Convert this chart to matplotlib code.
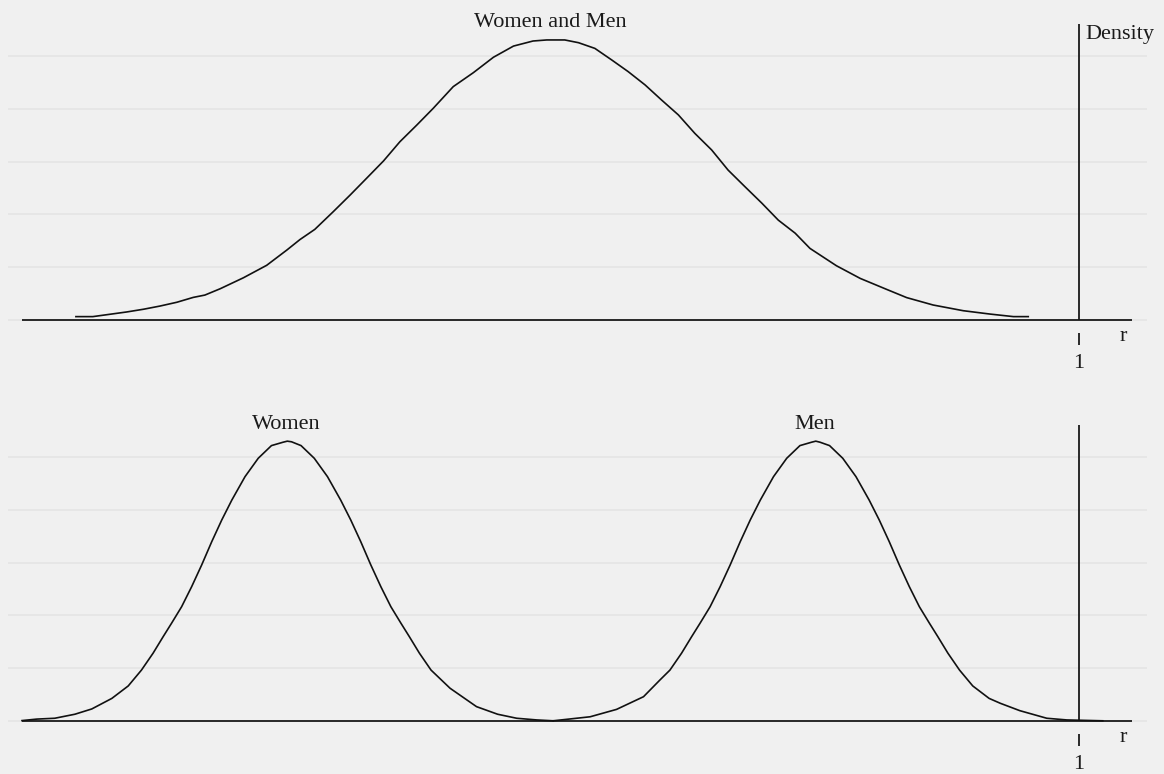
import matplotlib
matplotlib.use("Agg")
import matplotlib.pyplot as plt

plt.rcParams['font.family'] = ['Liberation Serif', 'DejaVu Serif']

# ---------------- data ----------------
both_r = [-0.898, -0.866, -0.834, -0.802, -0.770, -0.739, -0.707, -0.676, -0.654, -0.625,
          -0.581, -0.537, -0.499, -0.474, -0.446, -0.411, -0.379, -0.348, -0.316, -0.285,
          -0.253, -0.222, -0.184, -0.146, -0.108, -0.070, -0.033, -0.007, 0.027, 0.053,
          0.084, 0.116, 0.147, 0.179, 0.210, 0.242, 0.273, 0.305, 0.336, 0.368,
          0.400, 0.431, 0.463, 0.491, 0.541, 0.586, 0.636, 0.674, 0.724, 0.781,
          0.832, 0.876, 0.904]
both_d = [0.016, 0.016, 0.027, 0.038, 0.051, 0.066, 0.084, 0.107, 0.118, 0.148,
          0.200, 0.259, 0.331, 0.381, 0.429, 0.513, 0.592, 0.671, 0.753, 0.844,
          0.923, 1.002, 1.105, 1.171, 1.244, 1.297, 1.321, 1.326, 1.326, 1.313,
          1.286, 1.231, 1.176, 1.113, 1.042, 0.971, 0.884, 0.805, 0.710, 0.631,
          0.553, 0.473, 0.411, 0.339, 0.257, 0.197, 0.145, 0.106, 0.071, 0.044,
          0.028, 0.016, 0.016]

women_r = [-1.000, -0.972, -0.938, -0.900, -0.868, -0.830, -0.799, -0.774, -0.752, -0.733,
           -0.717, -0.698, -0.679, -0.660, -0.641, -0.622, -0.603, -0.578, -0.553, -0.528,
           -0.506, -0.498, -0.490, -0.472, -0.447, -0.422, -0.397, -0.378, -0.359, -0.340,
           -0.321, -0.302, -0.283, -0.267, -0.248, -0.226, -0.190, -0.140, -0.100, -0.064,
           -0.026, 0.005]
women_d = [0.002, 0.009, 0.013, 0.032, 0.057, 0.107, 0.166, 0.241, 0.321, 0.399,
           0.463, 0.541, 0.636, 0.739, 0.849, 0.952, 1.046, 1.157, 1.244, 1.304,
           1.320, 1.325, 1.322, 1.304, 1.244, 1.157, 1.046, 0.952, 0.849, 0.739,
           0.636, 0.541, 0.463, 0.399, 0.321, 0.241, 0.155, 0.068, 0.032, 0.013,
           0.005, 0.001]

men_r = [0.005, 0.031, 0.075, 0.125, 0.176, 0.207, 0.226, 0.248, 0.267, 0.283,
         0.302, 0.321, 0.340, 0.359, 0.378, 0.397, 0.422, 0.447, 0.472, 0.494,
         0.502, 0.510, 0.528, 0.553, 0.578, 0.603, 0.622, 0.641, 0.660, 0.679,
         0.698, 0.717, 0.733, 0.752, 0.774, 0.799, 0.830, 0.851, 0.888, 0.939,
         0.977, 1.045]
men_d = [0.001, 0.008, 0.020, 0.055, 0.115, 0.194, 0.241, 0.321, 0.399, 0.463,
         0.541, 0.636, 0.739, 0.849, 0.952, 1.046, 1.157, 1.244, 1.304, 1.320,
         1.325, 1.320, 1.304, 1.244, 1.157, 1.046, 0.952, 0.849, 0.739, 0.636,
         0.541, 0.463, 0.399, 0.321, 0.241, 0.166, 0.107, 0.084, 0.049, 0.013,
         0.005, 0.001]

grid_levels = [0.0, 0.25, 0.5, 0.75, 1.0, 1.25]
tick_value = 1
tick_label = "1"
top_title = "Women and Men"
women_label = "Women"
men_label = "Men"
women_peak = -0.5
men_peak = 0.5
axis_end = 1.1
axis_start = -1.0
vline_top = 1.40

# ---------------- figure ----------------
W, H = 1164, 774
BG = '#f0f0f0'
GRID = '#e4e4e4'
fig = plt.figure(figsize=(W / 100, H / 100), dpi=100, facecolor=BG)

xlim = (-1.0265, 1.1287)
left = 8 / W
width = (1147 - 8) / W


def make_panel(py_top, py_bot, base_px):
    scale = 211.2
    ax = fig.add_axes([left, 1 - py_bot / H, width, (py_bot - py_top) / H])
    ax.set_facecolor(BG)
    ax.patch.set_alpha(0)
    ax.set_xlim(*xlim)
    ax.set_ylim((base_px - py_bot) / scale, (base_px - py_top) / scale)
    for s in ax.spines.values():
        s.set_visible(False)
    ax.set_xticks([])
    ax.set_yticks([])
    for g in grid_levels:
        ax.axhline(g, color=GRID, lw=1.2, zorder=1)
    ax.plot([axis_start, axis_end], [0, 0], color='#1a1a1a', lw=1.3, zorder=3,
            solid_capstyle='butt')
    ax.plot([tick_value, tick_value], [0, vline_top], color='#1a1a1a', lw=1.3,
            zorder=3, solid_capstyle='butt')
    ax.plot([tick_value, tick_value], [-0.062, -0.118], color='#1a1a1a', lw=1.3,
            zorder=3, solid_capstyle='butt')
    ax.text(tick_value, -0.206, tick_label, ha='center', va='center', fontsize=16,
            color='#1a1a1a')
    ax.text(1.083, -0.080, "r", ha='center', va='center', fontsize=16,
            color='#1a1a1a')
    return ax


ax1 = make_panel(0, 380, 320)
ax1.plot(both_r, both_d, color='#111111', lw=1.2, zorder=4)
ax1.text(0.0, 1.41, top_title, ha='center', va='center', fontsize=16, color='#1a1a1a')
ax1.text(1.013, 1.35, "Density", ha='left', va='center', fontsize=16, color='#1a1a1a')

ax2 = make_panel(390, 774, 721)
ax2.plot(women_r, women_d, color='#111111', lw=1.2, zorder=4)
ax2.plot(men_r, men_d, color='#111111', lw=1.2, zorder=4)
ax2.text(women_peak, 1.403, women_label, ha='center', va='center', fontsize=16,
         color='#1a1a1a')
ax2.text(men_peak, 1.403, men_label, ha='center', va='center', fontsize=16,
         color='#1a1a1a')

fig.savefig("out.png", dpi=100, facecolor=BG)
